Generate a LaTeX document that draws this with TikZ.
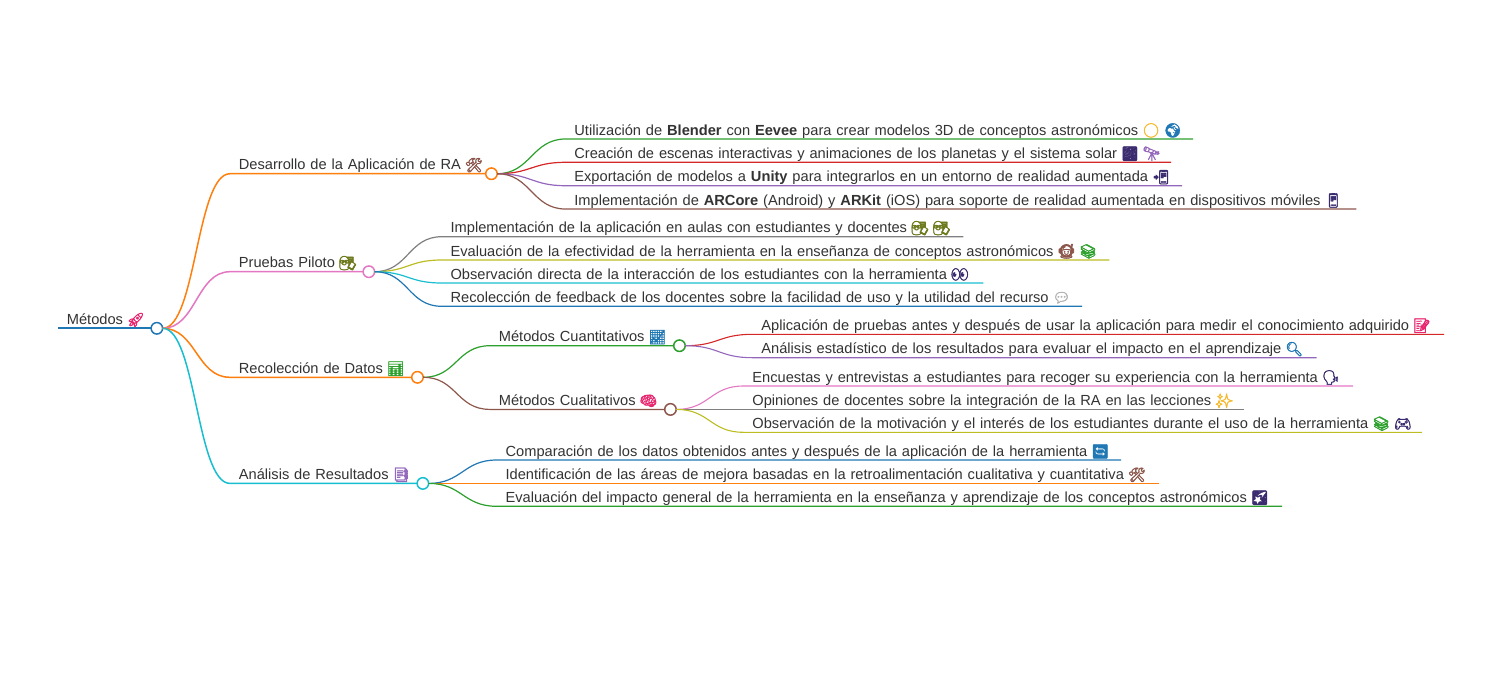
\documentclass[tikz,border=0pt]{standalone}
\usepackage{fontspec}
\setmainfont{Liberation Sans}
\newfontfamily\emojifont[FakeBold=2.5]{Noto Emoji}
\definecolor{mapblue}{HTML}{1F77B4}
\definecolor{maporange}{HTML}{FF7F0E}
\definecolor{mapgreen}{HTML}{2CA02C}
\definecolor{mapred}{HTML}{D62728}
\definecolor{mappurple}{HTML}{9467BD}
\definecolor{mapbrown}{HTML}{8C564B}
\definecolor{mappink}{HTML}{E377C2}
\definecolor{mapgray}{HTML}{7F7F7F}
\definecolor{mapolive}{HTML}{BCBD22}
\definecolor{mapcyan}{HTML}{17BECF}
\definecolor{maptext}{HTML}{333333}
\definecolor{mapyellow}{HTML}{F5B92E}
\definecolor{mapnavy}{HTML}{3A2A6E}
\definecolor{maprose}{HTML}{E8256F}
\definecolor{mapboard}{HTML}{6E7A1E}
\newcommand{\emo}[2]{\hspace{-1pt}{\color{#1}\fontsize{14}{16}\emojifont #2}}
\newcommand{\bend}{33.5}
\tikzset{
  topic/.style={anchor=south west,inner sep=0pt,text width=#1pt,align=left,
    text height=11pt,text depth=3.6pt,text=maptext,
    font=\fontsize{14.64}{16}\selectfont,execute at begin node=\hspace*{8.7pt}},
  knob/.style={circle,draw=#1,fill=white,line width=1.5pt,inner sep=0pt,outer sep=0pt,minimum size=11.5pt,anchor=west},
  lvla/.style={line width=2pt},
  lvlb/.style={line width=1.5pt},
  lvlc/.style={line width=1.2pt},
  lvld/.style={line width=1.1pt}
}
\begin{document}
\begin{tikzpicture}[x=1pt,y=-1pt]
  \useasboundingbox (0,0) rectangle (1504,686);
  % root
  \node[topic=92.7] (metodos) at (58,328.3) {Métodos \emo{maprose}{🚀}};
  \node[knob=mapblue] (kmetodos) at (metodos.south east) {};
  % first level
  \node[topic=255.3] (desarrollo) at (230,173.7) {Desarrollo de la Aplicación de RA \emo{mapbrown}{🛠}};
  \node[knob=maporange] (kdesarrollo) at (desarrollo.south east) {};
  \node[topic=132.7] (pruebas) at (230,271.7) {Pruebas Piloto \emo{mapboard}{👩‍🏫}};
  \node[knob=mappink] (kpruebas) at (pruebas.south east) {};
  \node[topic=181.3] (recoleccion) at (230,377.3) {Recolección de Datos \emo{mapgreen}{📊}};
  \node[knob=maporange] (krecoleccion) at (recoleccion.south east) {};
  \node[topic=186.7] (analisis) at (230,483.4) {Análisis de Resultados \emo{mappurple}{📑}};
  \node[knob=mapcyan] (kanalisis) at (analisis.south east) {};
  % desarrollo
  \node[topic=627.2] (blender) at (565.5,139) {Utilización de \textbf{Blender} con \textbf{Eevee} para crear modelos 3D de conceptos astronómicos \emo{mapyellow}{🌕} \emo{mapblue}{🌍}};
  \node[topic=605.2] (escenas) at (565.5,162.3) {Creación de escenas interactivas y animaciones de los planetas y el sistema solar \emo{mapnavy}{🌌} \emo{mappurple}{🔭}};
  \node[topic=616.2] (unity) at (565.5,185.7) {Exportación de modelos a \textbf{Unity} para integrarlos en un entorno de realidad aumentada \emo{mapnavy}{📲}};
  \node[topic=790.5] (arcore) at (565.5,209) {Implementación de \textbf{ARCore} (Android) y \textbf{ARKit} (iOS) para soporte de realidad aumentada en dispositivos móviles \emo{mapnavy}{📱}};
  % pruebas
  \node[topic=521.3] (aulas) at (441.7,236.7) {Implementación de la aplicación en aulas con estudiantes y docentes \emo{mapboard}{👩‍🏫} \emo{mapboard}{👩‍🏫}};
  \node[topic=667.3] (efectividad) at (441.7,260) {Evaluación de la efectividad de la herramienta en la enseñanza de conceptos astronómicos \emo{mapbrown}{👩‍🚀} \emo{mapgreen}{📚}};
  \node[topic=541.3] (observacion) at (441.7,283) {Observación directa de la interacción de los estudiantes con la herramienta \emo{mapnavy}{👀}};
  \node[topic=640] (feedback) at (441.7,306.3) {Recolección de feedback de los docentes sobre la facilidad de uso y la utilidad del recurso \emo{mapgray!60}{💬}};
  % recoleccion
  \node[topic=183.3] (cuanti) at (490,345.7) {Métodos Cuantitativos \emo{mapblue}{📈}};
  \node[knob=mapgreen] (kcuanti) at (cuanti.south east) {};
  \node[topic=174.3] (cuali) at (490,409.4) {Métodos Cualitativos \emo{maprose}{🧠}};
  \node[knob=mapbrown] (kcuali) at (cuali.south east) {};
  \node[topic=691.3] (pretest) at (752.5,334.3) {Aplicación de pruebas antes y después de usar la aplicación para medir el conocimiento adquirido \emo{maprose}{📝}};
  \node[topic=563.7] (estadistico) at (752.5,357.7) {Análisis estadístico de los resultados para evaluar el impacto en el aprendizaje \emo{mapblue}{🔍}};
  \node[topic=609.2] (encuestas) at (743.5,386) {Encuestas y entrevistas a estudiantes para recoger su experiencia con la herramienta \emo{mapnavy}{🗣}};
  \node[topic=500.5] (opiniones) at (743.5,409.4) {Opiniones de docentes sobre la integración de la RA en las lecciones \emo{mapyellow}{✨}};
  \node[topic=678.2] (motivacion) at (743.5,432.3) {Observación de la motivación y el interés de los estudiantes durante el uso de la herramienta \emo{mapgreen}{📚} \emo{mapnavy}{🎮}};
  % analisis
  \node[topic=624] (comparacion) at (496.7,460) {Comparación de los datos obtenidos antes y después de la aplicación de la herramienta \emo{mapblue}{🔄}};
  \node[topic=662] (mejora) at (496.7,483.4) {Identificación de las áreas de mejora basadas en la retroalimentación cualitativa y cuantitativa \emo{mapbrown}{🛠}};
  \node[topic=785] (impacto) at (496.7,506.3) {Evaluación del impacto general de la herramienta en la enseñanza y aprendizaje de los conceptos astronómicos \emo{mapnavy}{🌠}};
  % lines
  \draw[lvla,mapblue] (metodos.south west) -- (metodos.south east);
  \foreach \n/\c in {desarrollo/maporange,pruebas/mappink,recoleccion/maporange,analisis/mapcyan}
    \draw[lvlb,\c] (kmetodos.east) .. controls +(\bend,0) and +(-\bend,0) .. (\n.south west) -- (\n.south east);
  \foreach \n/\c in {blender/mapgreen,escenas/mapred,unity/mappurple,arcore/mapbrown}
    \draw[lvlc,\c] (kdesarrollo.east) .. controls +(\bend,0) and +(-\bend,0) .. (\n.south west) -- (\n.south east);
  \foreach \n/\c in {aulas/mapgray,efectividad/mapolive,observacion/mapcyan,feedback/mapblue}
    \draw[lvlc,\c] (kpruebas.east) .. controls +(\bend,0) and +(-\bend,0) .. (\n.south west) -- (\n.south east);
  \foreach \n/\c in {cuanti/mapgreen,cuali/mapbrown}
    \draw[lvlc,\c] (krecoleccion.east) .. controls +(\bend,0) and +(-\bend,0) .. (\n.south west) -- (\n.south east);
  \foreach \n/\c in {pretest/mapred,estadistico/mappurple}
    \draw[lvld,\c] (kcuanti.east) .. controls +(\bend,0) and +(-\bend,0) .. (\n.south west) -- (\n.south east);
  \foreach \n/\c in {encuestas/mappink,opiniones/mapgray,motivacion/mapolive}
    \draw[lvld,\c] (kcuali.east) .. controls +(\bend,0) and +(-\bend,0) .. (\n.south west) -- (\n.south east);
  \foreach \n/\c in {comparacion/mapblue,mejora/maporange,impacto/mapgreen}
    \draw[lvlc,\c] (kanalisis.east) .. controls +(\bend,0) and +(-\bend,0) .. (\n.south west) -- (\n.south east);
\end{tikzpicture}
\end{document}
